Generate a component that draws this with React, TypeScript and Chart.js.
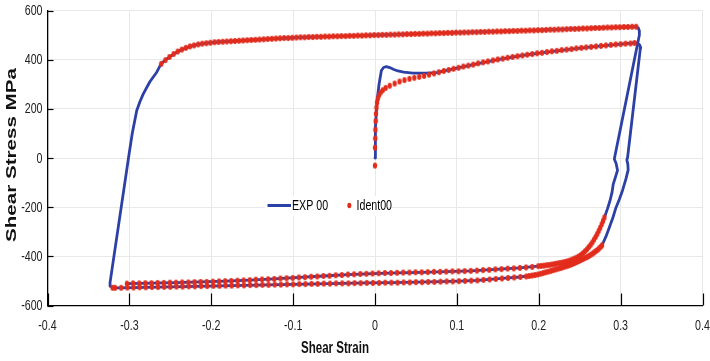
import React, { useEffect, useRef } from "react";
import { Chart, registerables } from "chart.js";

Chart.register(...registerables);

// ---------- axis ticks ----------
const xTickValues = [-0.4, -0.3, -0.2, -0.1, 0, 0.1, 0.2, 0.3, 0.4];
const xTickLabels = ["-0.4", "-0.3", "-0.2", "-0.1", "0", "0.1", "0.2", "0.3", "0.4"];
const yTickValues = [-600, -400, -200, 0, 200, 400, 600];
const yTickLabels = ["-600", "-400", "-200", "0", "200", "400", "600"];

const xTitle = "Shear Strain";
const yTitle = "Shear Stress MPa";
const seriesNames = ["EXP 00", "Ident00"];

// ---------- EXP 00 (experimental line) ----------
const expStrain = [
  0, 0, 0.001, 0.0025, 0.005, 0.0078, 0.0105, 0.0139, 0.018, 0.023, 0.028, 0.035, 0.0463, 0.0627, 0.075,
  0.09, 0.1, 0.12, 0.15, 0.18, 0.21, 0.24, 0.27, 0.3, 0.3167,
  0.3205, 0.3232, 0.3245, 0.3238, 0.3085, 0.3076, 0.3088, 0.3092, 0.3065, 0.3025, 0.2985, 0.2944, 0.2905,
  0.2862, 0.282, 0.2773,
  0.2697, 0.2612, 0.2516, 0.2412, 0.23, 0.218, 0.2053, 0.1918, 0.1775, 0.155, 0.125, 0.1025, 0.08, 0.05,
  0.02, -0.01, -0.04, -0.07, -0.1, -0.13, -0.16, -0.19, -0.22, -0.25, -0.28, -0.31, -0.3205,
  -0.3225, -0.3236, -0.3052, -0.301, -0.2965, -0.291, -0.287, -0.283, -0.275, -0.2666, -0.2613,
  -0.256, -0.246, -0.236, -0.226, -0.216, -0.206, -0.191, -0.171, -0.151, -0.121, -0.091, -0.061, -0.031,
  -0.001, 0.039, 0.079, 0.119, 0.159, 0.199, 0.239, 0.279, 0.309, 0.319,
  0.3215, 0.3228, 0.3229, 0.2923, 0.2945, 0.2962, 0.2935, 0.291, 0.2895, 0.287, 0.2838, 0.2802,
  0.2768, 0.2714, 0.2655, 0.259, 0.2517, 0.2438, 0.2352, 0.226, 0.2163, 0.2063, 0.1995, 0.177, 0.147,
  0.117, 0.087, 0.057, 0.027, -0.003, -0.033, -0.063, -0.093, -0.123, -0.153, -0.183, -0.213, -0.243,
  -0.273, -0.303,
];
const expStress = [
  0, 30, 125, 233, 301, 356, 368, 372, 368, 360, 354, 349, 345, 345, 347,
  358, 366, 380, 400, 417, 431, 443, 454, 463, 468,
  467, 460, 449, 438, 2, -8, -25, -48, -85, -130, -168, -201, -243,
  -283, -320, -355,
  -379, -399, -415, -431, -444, -456, -468, -478, -484, -490, -498, -501, -503, -505,
  -507, -508, -510, -512, -514, -516, -518, -520, -522, -524, -526, -528, -528,
  -522, -507, -93, 2, 100, 193, 230, 261, 310, 349, 383,
  398, 423, 441, 454, 462, 467, 472, 476, 480, 486, 491, 494, 497,
  500, 504, 508, 512, 516, 520, 525, 530, 533, 534,
  530, 518, 500, -4, -22, -50, -80, -106, -140, -174, -208, -242,
  -270, -309, -343, -371, -394, -411, -421, -427, -433, -438, -440, -447, -453,
  -459, -462, -465, -467, -470, -474, -480, -486, -492, -497, -501, -504, -507,
  -509, -511,
];

// ---------- Ident00 (identified model points) ----------
// first loading branch
const identLoadStrain = [
  0, 0, 0.0003, 0.0005, 0.0008, 0.0012, 0.0018, 0.0025, 0.0035, 0.005,
  0.007, 0.0095, 0.013, 0.018, 0.024, 0.03, 0.036, 0.042, 0.048, 0.054,
  0.06, 0.066, 0.072, 0.078, 0.084, 0.09, 0.096, 0.102, 0.108, 0.114,
  0.12, 0.126, 0.132, 0.138, 0.144, 0.15, 0.156, 0.162, 0.168, 0.174,
  0.18, 0.186, 0.192, 0.198, 0.204, 0.21, 0.216, 0.222, 0.228, 0.234,
  0.24, 0.246, 0.252, 0.258, 0.264, 0.27, 0.276, 0.282, 0.288, 0.294,
  0.3, 0.306, 0.312, 0.317,
];
const identLoadStress = [
  -31, 42, 80, 115, 150, 180, 205, 225, 242, 256,
  267, 276, 285, 294, 303, 311, 317, 322, 326, 330,
  334, 339, 344, 349, 354, 358, 363, 367, 372, 376,
  380, 385, 389, 393, 397, 401, 404, 408, 411, 414,
  417, 420, 423, 426, 428, 431, 434, 436, 439, 441,
  443, 446, 448, 450, 452, 454, 456, 458, 460, 462,
  463, 465, 466, 468,
];
// upper (second forward) branch
const identTopStrain = [
  -0.261, -0.256, -0.251, -0.246, -0.241, -0.236, -0.231, -0.226, -0.221, -0.216,
  -0.211, -0.206, -0.201, -0.196, -0.191, -0.186, -0.181, -0.176, -0.171, -0.166,
  -0.161, -0.156, -0.151, -0.146, -0.141, -0.136, -0.131, -0.126, -0.121, -0.116,
  -0.111, -0.106, -0.101, -0.096, -0.091, -0.086, -0.081, -0.076, -0.071, -0.066,
  -0.061, -0.056, -0.051, -0.046, -0.041, -0.036, -0.031, -0.026, -0.021, -0.016,
  -0.011, -0.006, -0.001, 0.004, 0.009, 0.014, 0.019, 0.024, 0.029, 0.034,
  0.039, 0.044, 0.049, 0.054, 0.059, 0.064, 0.069, 0.074, 0.079, 0.084,
  0.089, 0.094, 0.099, 0.104, 0.109, 0.114, 0.119, 0.124, 0.129, 0.134,
  0.139, 0.144, 0.149, 0.154, 0.159, 0.164, 0.169, 0.174, 0.179, 0.184,
  0.189, 0.194, 0.199, 0.204, 0.209, 0.214, 0.219, 0.224, 0.229, 0.234,
  0.239, 0.244, 0.249, 0.254, 0.259, 0.264, 0.269, 0.274, 0.279, 0.284,
  0.289, 0.294, 0.299, 0.304, 0.309, 0.314, 0.319,
];
const identTopStress = [
  383, 398, 411, 423, 433, 441, 448, 454, 458, 462,
  465, 467, 469, 471, 472, 473, 474, 475, 476, 477,
  478, 479, 480, 481, 482, 483, 484, 485, 486, 487,
  488, 488, 489, 490, 491, 491, 492, 492, 493, 493,
  494, 494, 495, 495, 496, 496, 497, 497, 498, 498,
  499, 499, 500, 500, 501, 501, 502, 502, 503, 503,
  504, 504, 505, 505, 506, 506, 507, 507, 508, 508,
  509, 509, 510, 510, 511, 511, 512, 512, 513, 513,
  514, 514, 515, 515, 516, 516, 517, 517, 518, 518,
  519, 519, 520, 520, 521, 522, 522, 523, 523, 524,
  525, 525, 526, 527, 527, 528, 529, 529, 530, 531,
  531, 532, 532, 533, 533, 534, 534,
];
// lower branch A (reverse after second forward)
const identRevAStrain = [
  0.2802, 0.2785, 0.2768, 0.275, 0.2732, 0.2714, 0.2695, 0.2675, 0.2655, 0.2634,
  0.2612, 0.259, 0.2566, 0.2542, 0.2517, 0.2491, 0.2465, 0.2438, 0.241, 0.2381,
  0.2352, 0.2322, 0.2291, 0.226, 0.2228, 0.2196, 0.2163, 0.213, 0.2097, 0.2063,
  0.2029, 0.1995, 0.192, 0.1845, 0.177, 0.1695, 0.162, 0.1545, 0.147, 0.1395,
  0.132, 0.1245, 0.117, 0.1095, 0.102, 0.0945, 0.087, 0.0795, 0.072, 0.0645,
  0.057, 0.0495, 0.042, 0.0345, 0.027, 0.0195, 0.012, 0.0045, -0.003, -0.0105,
  -0.018, -0.0255, -0.033, -0.0405, -0.048, -0.0555, -0.063, -0.0705, -0.078, -0.0855,
  -0.093, -0.1005, -0.108, -0.1155, -0.123, -0.1305, -0.138, -0.1455, -0.153, -0.1605,
  -0.168, -0.1755, -0.183, -0.1905, -0.198, -0.2055, -0.213, -0.2205, -0.228, -0.2355,
  -0.243, -0.2505, -0.258, -0.2655, -0.273, -0.2805, -0.288, -0.2955, -0.303,
];
const identRevAStress = [
  -242, -256, -270, -284, -297, -309, -321, -332, -343, -353,
  -362, -371, -379, -387, -394, -400, -405, -409, -413, -417,
  -420, -423, -425, -427, -429, -431, -433, -435, -436, -438,
  -439, -440, -443, -445, -447, -449, -450, -452, -453, -455,
  -456, -458, -459, -460, -461, -461, -462, -463, -463, -464,
  -465, -465, -466, -466, -467, -468, -468, -469, -470, -471,
  -472, -473, -474, -476, -477, -479, -480, -482, -483, -485,
  -486, -488, -489, -490, -492, -493, -494, -495, -497, -498,
  -499, -500, -501, -502, -503, -504, -504, -505, -506, -506,
  -507, -507, -508, -508, -509, -509, -510, -510, -511,
];
// lower branch B (reverse after first loading)
const identRevBStrain = [
  0.2773, 0.2755, 0.2736, 0.2717, 0.2697, 0.2677, 0.2656, 0.2634, 0.2612, 0.2589,
  0.2565, 0.2541, 0.2516, 0.2491, 0.2465, 0.2439, 0.2412, 0.2385, 0.2357, 0.2329,
  0.23, 0.2271, 0.2241, 0.2211, 0.218, 0.2149, 0.2117, 0.2085, 0.2053, 0.202,
  0.1987, 0.1953, 0.1918, 0.1883, 0.1847, 0.1775, 0.17, 0.1625, 0.155, 0.1475,
  0.14, 0.1325, 0.125, 0.1175, 0.11, 0.1025, 0.095, 0.0875, 0.08, 0.0725,
  0.065, 0.0575, 0.05, 0.0425, 0.035, 0.0275, 0.02, 0.0125, 0.005, -0.0025,
  -0.01, -0.0175, -0.025, -0.0325, -0.04, -0.0475, -0.055, -0.0625, -0.07, -0.0775,
  -0.085, -0.0925, -0.1, -0.1075, -0.115, -0.1225, -0.13, -0.1375, -0.145, -0.1525,
  -0.16, -0.1675, -0.175, -0.1825, -0.19, -0.1975, -0.205, -0.2125, -0.22, -0.2275,
  -0.235, -0.2425, -0.25, -0.2575, -0.265, -0.2725, -0.28, -0.2875, -0.295, -0.3025,
  -0.31, -0.3175, -0.3205,
];
const identRevBStress = [
  -355, -362, -368, -374, -379, -384, -389, -394, -399, -403,
  -407, -411, -415, -419, -423, -427, -431, -435, -438, -441,
  -444, -447, -450, -453, -456, -459, -462, -465, -468, -471,
  -474, -476, -478, -480, -482, -484, -486, -488, -490, -492,
  -494, -496, -498, -499, -500, -501, -502, -502, -503, -504,
  -504, -505, -505, -506, -506, -507, -507, -507, -508, -508,
  -508, -509, -509, -510, -510, -510, -511, -511, -512, -512,
  -513, -513, -514, -514, -515, -515, -516, -516, -517, -517,
  -518, -518, -519, -519, -520, -520, -521, -521, -522, -522,
  -523, -523, -524, -524, -525, -525, -526, -526, -527, -527,
  -528, -528, -528,
];

// ---------- styles ----------
const BLUE = "#2c40a6";
const RED = "#e22c1c";
const GRID = "#e8e8e8";
const TEXT = "#222";
const FONT = '"Liberation Sans", Arial, sans-serif';

const pts = (xs: number[], ys: number[]) => xs.map((x, i) => ({ x, y: ys[i] }));

function drawScaledText(
  ctx: CanvasRenderingContext2D,
  text: string,
  x: number,
  y: number,
  font: string,
  sx: number,
  align: CanvasTextAlign,
  color: string,
  rotate = 0
) {
  ctx.save();
  ctx.font = font;
  ctx.fillStyle = color;
  ctx.textAlign = align;
  ctx.textBaseline = "middle";
  ctx.translate(x, y);
  if (rotate) ctx.rotate(rotate);
  ctx.scale(sx, 1);
  ctx.fillText(text, 0, 0);
  ctx.restore();
}

const decorPlugin = {
  id: "decor",
  afterDraw(chart: any) {
    const ctx: CanvasRenderingContext2D = chart.ctx;
    const xs = chart.scales.x;
    const ys = chart.scales.y;
    const area = chart.chartArea;
    ctx.save();
    // inward tick marks
    ctx.strokeStyle = "#000";
    ctx.lineWidth = 1.2;
    xTickValues.forEach((v) => {
      const px = Math.round(xs.getPixelForValue(v)) + 0.5;
      ctx.beginPath();
      ctx.moveTo(px, area.bottom);
      ctx.lineTo(px, area.bottom - 12);
      ctx.stroke();
    });
    yTickValues.forEach((v) => {
      const py = Math.round(ys.getPixelForValue(v)) + 0.5;
      ctx.beginPath();
      ctx.moveTo(area.left, py);
      ctx.lineTo(area.left + 6, py);
      ctx.stroke();
    });
    // tick labels
    const tickFont = `15px ${FONT}`;
    xTickValues.forEach((v, i) => {
      drawScaledText(ctx, xTickLabels[i], xs.getPixelForValue(v), area.bottom + 20.5, tickFont, 0.71, "center", TEXT);
    });
    yTickValues.forEach((v, i) => {
      drawScaledText(ctx, yTickLabels[i], area.left - 5, ys.getPixelForValue(v) + 0.5, tickFont, 0.71, "right", TEXT);
    });
    // axis titles
    drawScaledText(ctx, xTitle, 335, 348, `bold 17px ${FONT}`, 0.68, "center", "#111");
    drawScaledText(ctx, yTitle, 12.5, 155, `bold 14px ${FONT}`, 1.47, "center", "#111", -Math.PI / 2);
    // legend
    ctx.fillStyle = "#fff";
    ctx.fillRect(265, 196, 122, 20);
    ctx.strokeStyle = BLUE;
    ctx.lineWidth = 3;
    ctx.beginPath();
    ctx.moveTo(267.5, 205.5);
    ctx.lineTo(291, 205.5);
    ctx.stroke();
    drawScaledText(ctx, seriesNames[0], 292, 205.5, `15px ${FONT}`, 0.71, "left", "#000");
    ctx.fillStyle = RED;
    ctx.beginPath();
    ctx.ellipse(349.3, 205.5, 2, 2.8, 0, 0, Math.PI * 2);
    ctx.fill();
    drawScaledText(ctx, seriesNames[1], 356.5, 205.5, `15px ${FONT}`, 0.71, "left", "#000");
    ctx.restore();
  },
};

export default function App() {
  const ref = useRef<HTMLCanvasElement | null>(null);

  useEffect(() => {
    if (!ref.current) return;
    const dot = document.createElement("canvas");
    dot.width = 6;
    dot.height = 8;
    const dctx = dot.getContext("2d")!;
    dctx.fillStyle = RED;
    dctx.beginPath();
    dctx.ellipse(3, 4, 2.2, 3.0, 0, 0, Math.PI * 2);
    dctx.fill();

    const identPoints = [
      ...pts(identLoadStrain, identLoadStress),
      ...pts(identTopStrain, identTopStress),
      ...pts(identRevAStrain, identRevAStress),
      ...pts(identRevBStrain, identRevBStress),
    ];

    const chart = new Chart(ref.current, {
      type: "scatter",
      data: {
        datasets: [
          {
            label: seriesNames[0],
            data: pts(expStrain, expStress),
            showLine: true,
            borderColor: BLUE,
            backgroundColor: BLUE,
            borderWidth: 2.8,
            borderCapStyle: "round",
            borderJoinStyle: "round",
            pointRadius: 0,
            tension: 0,
            order: 2,
          } as any,
          {
            label: seriesNames[1],
            data: identPoints,
            showLine: false,
            pointStyle: dot as any,
            pointRadius: 2.5,
            backgroundColor: RED,
            borderColor: RED,
            order: 1,
          } as any,
        ],
      },
      options: {
        animation: false,
        responsive: false,
        devicePixelRatio: 1,
        layout: { padding: { left: 0, right: 7.5, top: 10.5, bottom: 0 } },
        plugins: {
          legend: { display: false },
          tooltip: { enabled: false },
          title: { display: false },
        },
        scales: {
          x: {
            type: "linear",
            min: -0.4,
            max: 0.4,
            afterBuildTicks: (s: any) => {
              s.ticks = xTickValues.map((v) => ({ value: v }));
            },
            afterFit: (s: any) => {
              s.height = 55.5;
            },
            ticks: { display: false },
            grid: { color: GRID, lineWidth: 1, drawTicks: false },
            border: { color: "#000", width: 1.3 },
          },
          y: {
            type: "linear",
            min: -600,
            max: 600,
            afterBuildTicks: (s: any) => {
              s.ticks = yTickValues.map((v) => ({ value: v }));
            },
            afterFit: (s: any) => {
              s.width = 47.5;
            },
            ticks: { display: false },
            grid: { color: GRID, lineWidth: 1, drawTicks: false },
            border: { color: "#000", width: 1.3 },
          },
        },
      } as any,
      plugins: [decorPlugin],
    });
    return () => chart.destroy();
  }, []);

  return (
    <div style={{ position: "fixed", left: 0, top: 0, width: 710, height: 361, background: "#fff" }}>
      <canvas ref={ref} width={710} height={361} style={{ display: "block" }} />
    </div>
  );
}
